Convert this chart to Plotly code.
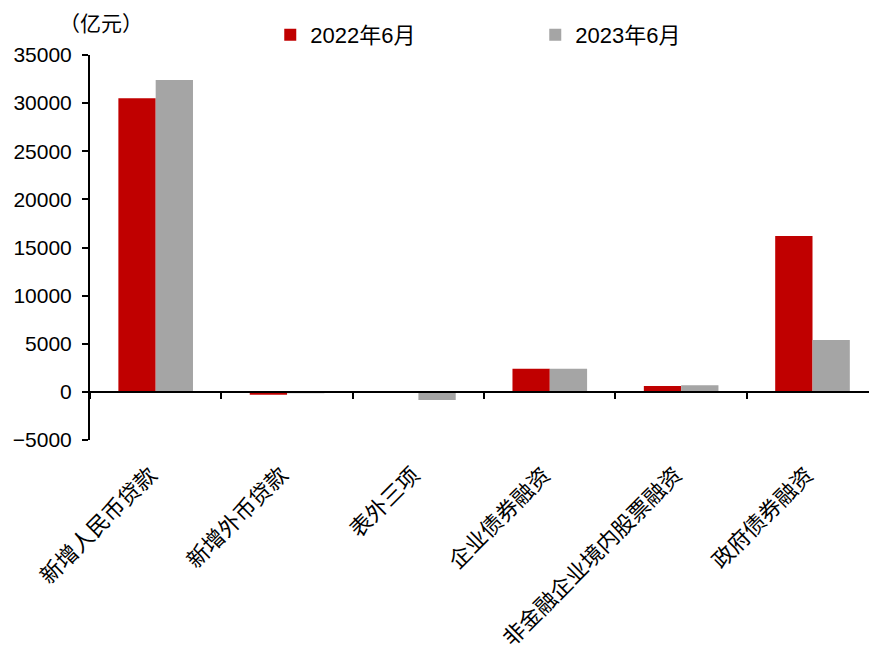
import plotly.graph_objects as go

# Social financing components, June of each year (unit: 100 million yuan)
categories = ["新增人民币贷款", "新增外币贷款", "表外三项", "企业债券融资",
              "非金融企业境内股票融资", "政府债券融资"]
series_names = ["2022年6月", "2023年6月"]
values_2022 = [30500, -300, -100, 2400, 600, 16200]
values_2023 = [32400, -150, -850, 2400, 700, 5388]
y_ticks = [-5000, 0, 5000, 10000, 15000, 20000, 25000, 30000, 35000]

RED = "#C00000"
GREY = "#A5A5A5"
NUM_FONT = "Liberation Sans, Arial, Noto Sans CJK SC"
CJK_FONT = "Noto Sans CJK SC, Liberation Sans"

y_min, y_max = -5000, 35000
zero_pos = (0 - y_min) / (y_max - y_min)

fig = go.Figure()
fig.add_trace(go.Bar(x=categories, y=values_2022, name=series_names[0],
                     marker=dict(color=RED, line=dict(width=0))))
fig.add_trace(go.Bar(x=categories, y=values_2023, name=series_names[1],
                     marker=dict(color=GREY, line=dict(width=0))))

# rotated category names hung below the plot area, ending under each group
category_labels = [
    dict(text=c, x=c, xref="x", y=0, yref="paper",
         xanchor="right", yanchor="top", xshift=8, yshift=-17,
         textangle=-45, showarrow=False, borderpad=0,
         font=dict(family=CJK_FONT, size=22, color="black"))
    for c in categories
]

unit_label = dict(text="（亿元）", xref="paper", yref="paper",
                  x=(101 - 90) / 779, y=1 + 33 / 385,
                  xanchor="center", yanchor="middle", showarrow=False,
                  font=dict(family=CJK_FONT, size=21, color="black"))

fig.update_layout(
    width=869, height=655,
    margin=dict(l=90, r=0, t=55, b=215, autoexpand=False),
    paper_bgcolor="white", plot_bgcolor="white",
    barmode="group", bargap=0.432, bargroupgap=0,
    showlegend=True,
    legend=dict(orientation="h", xref="container", yref="container",
                x=0.311, y=1 - 35 / 655, xanchor="left", yanchor="middle",
                entrywidth=220, entrywidthmode="pixels",
                font=dict(family=NUM_FONT, size=22, color="black"),
                bgcolor="rgba(0,0,0,0)"),
    xaxis=dict(type="category", categoryorder="array", categoryarray=categories,
               range=[-0.5, 5.43], anchor="free", position=zero_pos,
               showline=True, linecolor="black", linewidth=2,
               ticks="outside", tickson="boundaries", ticklen=6,
               tickwidth=2, tickcolor="black",
               showticklabels=False, showgrid=False, zeroline=False),
    yaxis=dict(range=[y_min, y_max], tickvals=y_ticks,
               ticktext=[f"{v}".replace("-", "\u2212") for v in y_ticks],
               showline=True, linecolor="black", linewidth=2,
               ticks="outside", ticklen=6, tickwidth=2, tickcolor="black",
               ticklabelstandoff=6,
               showgrid=False, zeroline=False,
               tickfont=dict(family=NUM_FONT, size=21, color="black")),
    annotations=category_labels + [unit_label],
)

fig.write_html("out.html")
